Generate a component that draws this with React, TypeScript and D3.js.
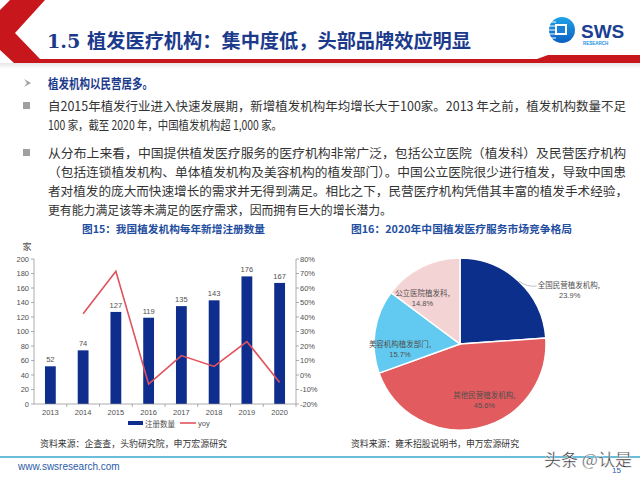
import React from 'react'
import * as d3 from 'd3'

// ---- data ----
const years = ['2013', '2014', '2015', '2016', '2017', '2018', '2019', '2020']
const registrations = [52, 74, 127, 119, 135, 143, 176, 167]
const yoy = [null, 42.3, 71.6, -6.3, 13.4, 5.9, 23.1, -5.1]

const shareNames = ['全国民营植发机构', '其他民营植发机构', '美容机构植发部门', '公立医院植发科']
const shareValues = [23.9, 45.6, 15.7, 14.8]
const shareColors = ['#0c2f8c', '#e25b5e', '#62caf0', '#f4d3d4']

const bodyLines = [
  '自2015年植发行业进入快速发展期，新增植发机构年均增长大于100家。2013 年之前，植发机构数量不足',
  '100 家，截至 2020 年，中国植发机构超 1,000 家。',
  '从分布上来看，中国提供植发医疗服务的医疗机构非常广泛，包括公立医院（植发科）及民营医疗机构',
  '（包括连锁植发机构、单体植发机构及美容机构的植发部门）。中国公立医院很少进行植发，导致中国患',
  '者对植发的庞大而快速增长的需求并无得到满足。相比之下，民营医疗机构凭借其丰富的植发手术经验，',
  '更有能力满足该等未满足的医疗需求，因而拥有巨大的增长潜力。',
]

const CJK = '"Noto Sans CJK SC", "Liberation Sans", sans-serif'
const NUM = '"Liberation Sans", Arial, "Noto Sans CJK SC", sans-serif'
const navy = '#1c3a8c'
const axisGray = '#8a8a8a'
const labelGray = '#505050'

function BarLine() {
  const left = 34, right = 296, top = 259, bottom = 404
  const x = d3.scaleBand().domain(years).range([left, right]).paddingInner(0.67).paddingOuter(0.335)
  const y = d3.scaleLinear().domain([0, 200]).range([bottom, top])
  const y2 = d3.scaleLinear().domain([-20, 80]).range([bottom, top])
  const cx = (d: string) => (x(d) as number) + x.bandwidth() / 2
  const step = (right - left) / years.length

  const line = d3.line<number | null>()
    .defined((d) => d !== null)
    .x((d, i) => cx(years[i]))
    .y((d) => y2(d as number))

  return (
    <g fontFamily={NUM}>
      <text x={82} y={233} fontFamily={CJK} fontSize={10.5} fontWeight="bold" fill="#1f4e9f" textLength={183} lengthAdjust="spacingAndGlyphs">图15：我国植发机构每年新增注册数量</text>
      <text x={27} y={250} fontFamily={CJK} fontSize={9} fill={labelGray} textAnchor="middle">家</text>

      {registrations.map((v, i) => (
        <rect key={years[i]} x={x(years[i])} y={y(v)} width={x.bandwidth()} height={y(0) - y(v)} fill="#0e2d8d" />
      ))}
      {registrations.map((v, i) => (
        <text key={'l' + i} x={cx(years[i])} y={y(v) - 4} fontSize={7.5} fill={labelGray} textAnchor="middle">{v}</text>
      ))}

      <path d={line(yoy) || ''} fill="none" stroke="#e0535c" strokeWidth={1.6} />

      {/* left axis */}
      <line x1={left} x2={left} y1={top} y2={bottom} stroke={axisGray} strokeWidth={0.7} />
      {y.ticks(10).map((t) => (
        <g key={'yl' + t}>
          <line x1={left - 3} x2={left} y1={y(t)} y2={y(t)} stroke={axisGray} strokeWidth={0.7} />
          <text x={29} y={y(t) + 2.6} fontSize={7.5} fill={labelGray} textAnchor="end">{t}</text>
        </g>
      ))}
      {/* right axis */}
      <line x1={right} x2={right} y1={top} y2={bottom} stroke={axisGray} strokeWidth={0.7} />
      {y2.ticks(10).map((t) => (
        <g key={'yr' + t}>
          <line x1={right} x2={right + 3} y1={y2(t)} y2={y2(t)} stroke={axisGray} strokeWidth={0.7} />
          <text x={300} y={y2(t) + 2.6} fontSize={7.5} fill={labelGray}>{t}%</text>
        </g>
      ))}
      {/* bottom axis */}
      <line x1={left} x2={right} y1={bottom} y2={bottom} stroke={axisGray} strokeWidth={0.7} />
      {years.map((yr, i) => (
        <g key={'x' + yr}>
          <line x1={left + step * (i + 1)} x2={left + step * (i + 1)} y1={bottom} y2={bottom + 3} stroke={axisGray} strokeWidth={0.7} />
          <text x={cx(yr)} y={bottom + 11} fontSize={7.5} fill={labelGray} textAnchor="middle">{yr}</text>
        </g>
      ))}

      {/* legend */}
      <rect x={128} y={421} width={15} height={4} fill="#0e2d8d" />
      <text x={145} y={426.5} fontFamily={CJK} fontSize={7.5} fill={labelGray}>注册数量</text>
      <line x1={180} x2={196} y1={423} y2={423} stroke="#e0535c" strokeWidth={1.6} />
      <text x={198} y={426} fontSize={7.5} fill={labelGray}>yoy</text>

      <text x={40} y={447} fontFamily={CJK} fontSize={9} fill="#333" textLength={187} lengthAdjust="spacingAndGlyphs">资料来源：企查查，头豹研究院，申万宏源研究</text>
    </g>
  )
}

function Pie() {
  const cxp = 460, cyp = 344, r = 86
  const pie = d3.pie<number>().sort(null).value((d) => d)
  const arcs = pie(shareValues)
  const arc = d3.arc<d3.PieArcDatum<number>>().innerRadius(0).outerRadius(r)
  const labelR = r * 0.7
  const shift = (12 * Math.PI) / 180

  return (
    <g>
      <text x={351} y={233} fontFamily={CJK} fontSize={10.5} fontWeight="bold" fill="#1f4e9f" textLength={221} lengthAdjust="spacingAndGlyphs">图16：2020年中国植发医疗服务市场竞争格局</text>
      <g transform={`translate(${cxp},${cyp})`}>
        {arcs.map((a, i) => (
          <path key={i} d={arc(a) || ''} fill={shareColors[i]} stroke="#fff" strokeWidth={1.5} />
        ))}
        {arcs.map((a, i) => {
          const mid = (a.startAngle + a.endAngle) / 2
          if (i === 0) {
            const sx = Math.sin(mid) * r, sy = -Math.cos(mid) * r
            return (
              <g key={'lab' + i}>
                <path d={`M${sx},${sy} Q${sx + 8},${sy + 6} ${sx + 18},${sy + 5}`} fill="none" stroke="#999" strokeWidth={0.6} />
                <text x={sx + 19} y={sy + 7} fontFamily={CJK} fontSize={7.5} fill={labelGray}>{shareNames[i]},</text>
                <text x={sx + 51} y={sy + 17} fontFamily={NUM} fontSize={7.5} fill={labelGray} textAnchor="middle">{shareValues[i].toFixed(1)}%</text>
              </g>
            )
          }
          const ang = mid - shift
          const lx = Math.sin(ang) * labelR, ly = -Math.cos(ang) * labelR
          return (
            <g key={'lab' + i}>
              <text x={lx} y={ly - 1} fontFamily={CJK} fontSize={7.5} fill={labelGray} textAnchor="middle">{shareNames[i]},</text>
              <text x={lx} y={ly + 9} fontFamily={NUM} fontSize={7.5} fill={labelGray} textAnchor="middle">{shareValues[i].toFixed(1)}%</text>
            </g>
          )
        })}
      </g>
      <text x={351} y={447} fontFamily={CJK} fontSize={9} fill="#333" textLength={168} lengthAdjust="spacingAndGlyphs">资料来源：雍禾招股说明书，申万宏源研究</text>
    </g>
  )
}

function Logo() {
  const stripes = d3.range(5)
  return (
    <g>
      <defs>
        <linearGradient id="lg" x1="0" y1="0" x2="0" y2="1">
          <stop offset="0" stopColor="#1fa3e8" />
          <stop offset="1" stopColor="#0b5fc0" />
        </linearGradient>
      </defs>
      <circle cx={562} cy={30} r={13} fill="url(#lg)" />
      {stripes.map((s) => (
        <line key={s} x1={549} x2={556} y1={22 + s * 4} y2={22 + s * 4} stroke="#fff" strokeWidth={1} />
      ))}
      <rect x={555} y={24} width={12} height={11} fill="#fff" />
      <rect x={557} y={26} width={8} height={7} fill="#1a7fd6" />
      <text x={581} y={38} fontFamily={NUM} fontWeight="bold" fontSize={19} fill="#1b3f94">SWS</text>
      <text x={583} y={45} fontFamily={NUM} fontWeight="bold" fontSize={4.5} fill="#1a8fe0">RESEARCH</text>
    </g>
  )
}

export default function App() {
  const lineY = [111, 130, 158, 177, 196, 215]
  const lineLen = [578, 234, 578, 578, 580, 344]
  return (
    <svg width={640} height={480} style={{ position: 'absolute', left: 0, top: 0, background: '#fff' }}>
      <rect width={640} height={480} fill="#fff" />
      {/* header */}
      <defs>
        <linearGradient id="shade" x1="0" y1="0" x2="0" y2="1">
          <stop offset="0" stopColor="#e6e6e6" />
          <stop offset="1" stopColor="#ffffff" />
        </linearGradient>
      </defs>
      <rect x={0} y={63} width={640} height={6} fill="url(#shade)" />
      <path d="M10,0 L45,0 L15,33 L40,59 L537,59 L548,55 L640,55 L640,63 L14,63 L0,50 L0,10 Z" fill="#c8161d" />
      <text x={47} y={48} fontFamily={'"DejaVu Serif", "Noto Sans CJK SC", serif'} fontWeight="bold" fontSize={19} fill={navy} textLength={424} lengthAdjust="spacingAndGlyphs">1.5 植发医疗机构：集中度低，头部品牌效应明显</text>
      <Logo />

      {/* bullets */}
      <path d="M24,79 L31,83 L24,87 L27,83 Z" fill="#a0a0a0" />
      <text x={48} y={88} fontFamily={CJK} fontWeight="bold" fontSize={13} fill={navy} textLength={105} lengthAdjust="spacingAndGlyphs">植发机构以民营居多。</text>
      <rect x={23} y={102} width={7} height={7} fill="#a0a0a0" />
      <rect x={23} y={149} width={7} height={7} fill="#a0a0a0" />
      {bodyLines.map((t, i) => (
        <text key={i} x={48} y={lineY[i]} fontFamily={CJK} fontSize={12.5} fill="#333" textLength={lineLen[i]} lengthAdjust="spacingAndGlyphs">{t}</text>
      ))}

      <BarLine />
      <Pie />

      {/* footer */}
      <line x1={0} x2={640} y1={457} y2={457} stroke="#3aa8cf" strokeWidth={1.5} />
      <text x={18} y={470} fontFamily={NUM} fontSize={10} fill="#2a5aa8">www.swsresearch.com</text>
      <text x={544} y={466} fontFamily={CJK} fontSize={17} fill="#2b2b2b" stroke="#fff" strokeWidth={0.4}>头条 @认是</text>
      <text x={612} y={473} fontFamily={NUM} fontSize={8} fill="#2a5aa8">15</text>
    </svg>
  )
}
